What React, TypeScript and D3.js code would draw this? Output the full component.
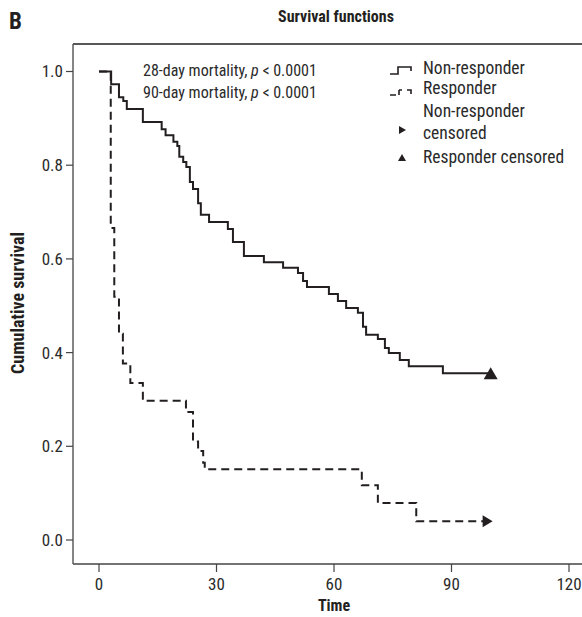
import React from "react";
import * as d3 from "d3";

// Non-responder (solid) Kaplan–Meier steps: time, survival after drop
const nonRespTimes = [0, 3.1, 5.1, 6.2, 7.1, 11.2, 16, 17, 19, 20, 20.5, 21.5, 22.3, 23.2, 24, 25.3, 26, 28.1, 32.9, 34.2, 37, 42.1, 47, 50.8, 52.1, 53.1, 58.7, 61, 63.1, 66.1, 67.4, 68.2, 71.2, 73, 74, 76.8, 79.1, 87.8, 100];
const nonRespSurv = [1.0, 0.973, 0.945, 0.937, 0.92, 0.892, 0.877, 0.864, 0.85, 0.841, 0.818, 0.807, 0.796, 0.764, 0.749, 0.719, 0.694, 0.679, 0.664, 0.636, 0.606, 0.593, 0.581, 0.57, 0.553, 0.54, 0.525, 0.51, 0.495, 0.485, 0.455, 0.438, 0.429, 0.41, 0.399, 0.384, 0.371, 0.356, 0.356];

// Responder (dashed)
const respTimes = [0, 3.0, 3.9, 5.1, 6.1, 8.0, 11.2, 22.2, 24, 25.3, 26.6, 27, 67.1, 71.2, 81, 100.5];
const respSurv = [1.0, 0.666, 0.519, 0.44, 0.377, 0.335, 0.297, 0.273, 0.21, 0.19, 0.165, 0.151, 0.117, 0.079, 0.04, 0.04];

const xTicks = [0, 30, 60, 90, 120];
const yTicks = [0.0, 0.2, 0.4, 0.6, 0.8, 1.0];
const legendLabels = ["Non-responder", "Responder", "Non-responder", "censored", "Responder censored"];

const FONT = "'Liberation Sans Narrow', 'Roboto Condensed', Roboto, sans-serif";
const INK = "#231f20";
const TXT = "#2a2a2a";

export default function App() {
  const x = d3.scaleLinear().domain([0, 120]).range([99, 569]);
  const y = d3.scaleLinear().domain([0, 1]).range([540, 71.5]);

  const line = d3
    .line<[number, number]>()
    .x((d) => x(d[0]))
    .y((d) => y(d[1]))
    .curve(d3.curveStepAfter);

  const nonResp: [number, number][] = nonRespTimes.map((t, i) => [t, nonRespSurv[i]]);
  const resp: [number, number][] = respTimes.map((t, i) => [t, respSurv[i]]);

  const left = 73, top = 44, bottom = 564, right = 582;

  const triX = x(nonRespTimes[nonRespTimes.length - 1]);
  const triY = y(nonRespSurv[nonRespSurv.length - 1]);
  const arrX = x(respTimes[respTimes.length - 1]);
  const arrY = y(respSurv[respSurv.length - 1]);

  return (
    <svg
      width={582}
      height={617}
      style={{ position: "absolute", left: 0, top: 0, background: "#fff" }}
      fontFamily={FONT}
    >
      <rect x={0} y={0} width={582} height={617} fill="#fff" />
      <text x={9} y={29} fontSize={23} fontWeight="bold" fill={INK}>B</text>
      <text x={336} y={22} fontSize={16} fontWeight="bold" textAnchor="middle" fill={INK}>
        Survival functions
      </text>

      {/* frame */}
      <line x1={left} y1={top} x2={right} y2={top} stroke={INK} strokeWidth={1.6} />
      <line x1={left} y1={top} x2={left} y2={bottom} stroke="#444" strokeWidth={1.3} />
      <line x1={left} y1={bottom} x2={right} y2={bottom} stroke="#444" strokeWidth={1.3} />

      {/* y ticks */}
      {yTicks.map((t) => (
        <g key={"y" + t}>
          <line x1={left - 7} x2={left} y1={y(t)} y2={y(t)} stroke="#444" strokeWidth={1.2} />
          <text x={left - 10} y={y(t)} dy="0.35em" textAnchor="end" fontSize={17} fill={TXT}>
            {t.toFixed(1)}
          </text>
        </g>
      ))}
      {/* x ticks */}
      {xTicks.map((t) => (
        <g key={"x" + t}>
          <line x1={x(t)} x2={x(t)} y1={bottom} y2={bottom + 8} stroke="#444" strokeWidth={1.2} />
          <text x={x(t)} y={590} textAnchor="middle" fontSize={17} fill={TXT}>
            {t}
          </text>
        </g>
      ))}
      <text x={334} y={611} textAnchor="middle" fontSize={16} fontWeight="bold" fill={INK}>Time</text>
      <text
        transform="translate(24,303) rotate(-90)"
        textAnchor="middle"
        fontSize={18}
        fontWeight="bold"
        fill={INK}
      >
        Cumulative survival
      </text>

      {/* curves */}
      <path d={line(resp) || ""} fill="none" stroke={INK} strokeWidth={2} strokeDasharray="8,5" />
      <path d={line(nonResp) || ""} fill="none" stroke={INK} strokeWidth={2} />

      {/* censor markers */}
      <path
        d={`M${triX - 7},${triY + 6} L${triX},${triY - 6} L${triX + 7},${triY + 6} Z`}
        fill={INK}
      />
      <path d={`M${arrX - 10},${arrY - 6} L${arrX},${arrY} L${arrX - 10},${arrY + 6} Z`} fill={INK} />

      {/* annotations */}
      <text x={143} y={76} fontSize={16} fill={TXT}>
        28-day mortality, <tspan fontStyle="italic">p</tspan> {"< 0.0001"}
      </text>
      <text x={143} y={98} fontSize={16} fill={TXT}>
        90-day mortality, <tspan fontStyle="italic">p</tspan> {"< 0.0001"}
      </text>

      {/* legend */}
      <path d="M390,74 L398,74 L398,67 L411,67 L411,71" fill="none" stroke={INK} strokeWidth={1.6} />
      <text x={423} y={74} fontSize={17.5} fill={TXT}>{legendLabels[0]}</text>

      <path d="M390,95 L396,95 M399,95 L399,90 M399,90 L402,90 M407,90 L411,90 L411,94" fill="none" stroke={INK} strokeWidth={1.6} />
      <text x={423} y={94} fontSize={17.5} fill={TXT}>{legendLabels[1]}</text>

      <text x={423} y={117} fontSize={17.5} fill={TXT}>{legendLabels[2]}</text>
      <path d="M399,126 L406,130 L399,134 Z" fill={INK} />
      <text x={423} y={139} fontSize={17.5} fill={TXT}>{legendLabels[3]}</text>

      <path d="M398,161 L402,154 L406,161 Z" fill={INK} />
      <text x={423} y={163} fontSize={17.5} fill={TXT}>{legendLabels[4]}</text>
    </svg>
  );
}
